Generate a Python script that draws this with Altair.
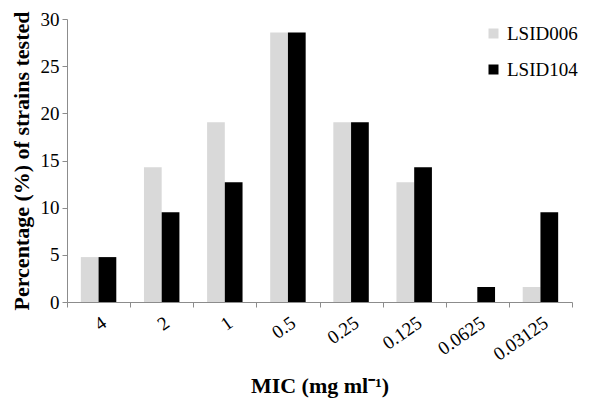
import altair as alt
import pandas as pd

mic = ["4", "2", "1", "0.5", "0.25", "0.125", "0.0625", "0.03125"]
lsid006 = [4.76, 14.29, 19.05, 28.57, 19.05, 12.70, 0.0, 1.59]
lsid104 = [4.76, 9.52, 12.70, 28.57, 19.05, 14.29, 1.59, 9.52]
series = ["LSID006", "LSID104"]
colors = ["#d9d9d9", "#000000"]

rows = []
for m, a, b in zip(mic, lsid006, lsid104):
    rows.append({"MIC": m, "Strain": series[0], "Pct": a})
    rows.append({"MIC": m, "Strain": series[1], "Pct": b})
df = pd.DataFrame(rows)

font = "Liberation Serif"

chart = alt.Chart(df).mark_bar().encode(
    x=alt.X("MIC:N", sort=mic,
            scale=alt.Scale(paddingInner=0, paddingOuter=0),
            axis=alt.Axis(title="MIC (mg ml\u207b\u00b9)", labelAngle=325, tickBand="extent",
                          labelFontSize=19, labelFont=font, labelColor="#000",
                          titleFont=font, titleFontSize=22, titleFontWeight="bold",
                          titleColor="#000", titlePadding=12,
                          domainColor="#8c8c8c", tickColor="#8c8c8c", tickSize=5,
                          labelPadding=6)),
    xOffset=alt.XOffset("Strain:N", sort=series,
                        scale=alt.Scale(paddingInner=0, paddingOuter=0.78)),
    y=alt.Y("Pct:Q", scale=alt.Scale(domain=[0, 30], nice=False),
            axis=alt.Axis(title="Percentage (%) of strains tested", values=[0, 5, 10, 15, 20, 25, 30],
                          grid=False, labelFontSize=19, labelFont=font, labelColor="#000",
                          titleFont=font, titleFontSize=22, titleFontWeight="bold",
                          titleColor="#000", titlePadding=7,
                          domainColor="#8c8c8c", tickColor="#8c8c8c", tickSize=5,
                          labelPadding=3)),
    color=alt.Color("Strain:N", sort=series,
                    scale=alt.Scale(domain=series, range=colors),
                    legend=alt.Legend(title=None, orient="none", legendX=417, legendY=5,
                                      symbolType="square", symbolSize=100, symbolStrokeWidth=0,
                                      labelFont=font, labelFontSize=19, labelColor="#000",
                                      rowPadding=16, labelOffset=4)),
).properties(
    width=505, height=283,
    autosize=alt.AutoSizeParams(type="none"),
    padding={"left": 59, "top": 11, "right": 20, "bottom": 104},
).configure_view(stroke=None)

chart.save("out.html", embed_options={"renderer": "svg", "actions": False})
